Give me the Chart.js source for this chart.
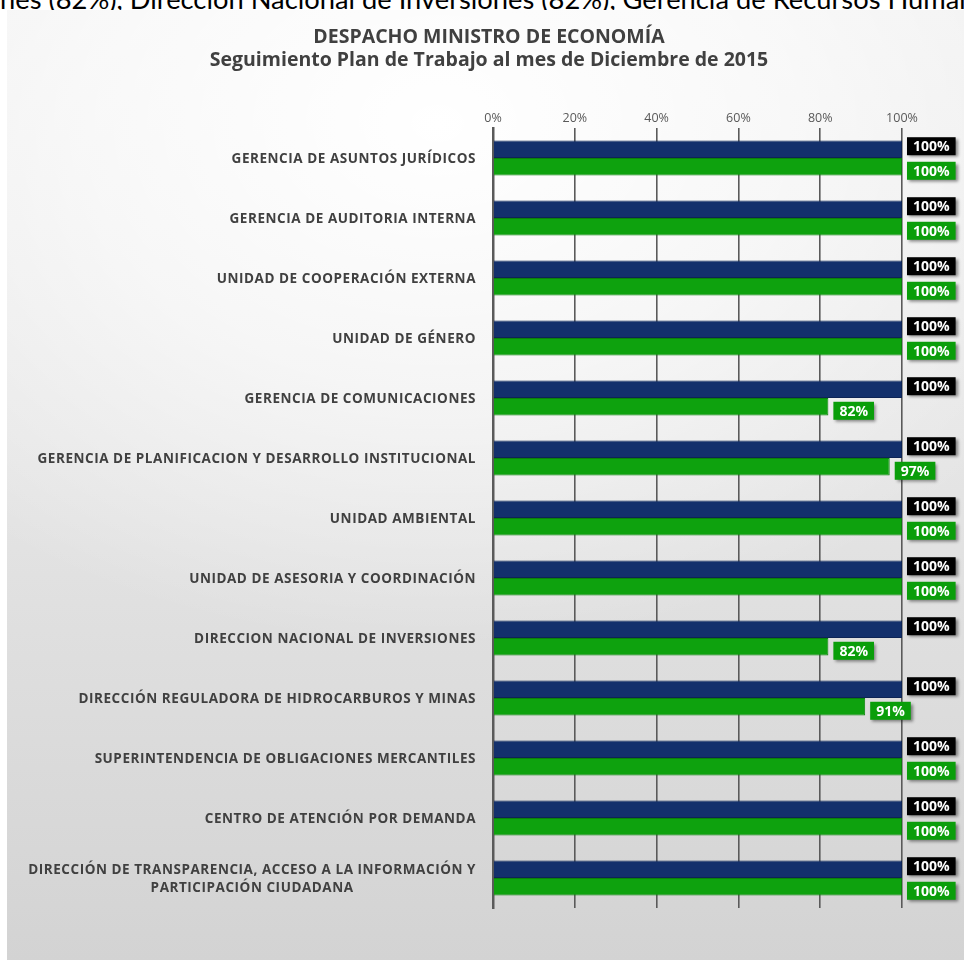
<!DOCTYPE html>
<html><head><meta charset="utf-8">
<script src="https://cdn.jsdelivr.net/npm/chart.js@4"></script>
<style>
html,body{margin:0;padding:0;background:#fff;width:964px;height:960px;overflow:hidden;}
#top{position:absolute;left:0;top:0;}
#panel{position:absolute;left:7px;top:10px;width:957px;height:950px;
background:
 radial-gradient(ellipse 75% 55% at 45% 12%, rgba(255,255,255,1) 0%, rgba(255,255,255,0.6) 50%, rgba(255,255,255,0) 100%),
 linear-gradient(to bottom,#f0f0f0 0%,#e6e6e6 45%,#d3d3d3 100%);}
#cv{position:absolute;left:0;top:0;}
</style></head><body>
<svg id="top" width="964" height="14"><text x="0" y="9" font-family="Lato" font-size="27.3" fill="#000">nes (82%), Dirección Nacional de Inversiones (82%), Gerencia de Recursos Humanos</text></svg>
<div id="panel"><canvas id="cv" width="957" height="950"></canvas></div>
<script>
const categories = [
  'GERENCIA DE ASUNTOS JURÍDICOS',
  'GERENCIA DE AUDITORIA INTERNA',
  'UNIDAD DE COOPERACIÓN EXTERNA',
  'UNIDAD DE GÉNERO',
  'GERENCIA DE COMUNICACIONES',
  'GERENCIA DE PLANIFICACION Y DESARROLLO INSTITUCIONAL',
  'UNIDAD AMBIENTAL',
  'UNIDAD DE ASESORIA Y COORDINACIÓN',
  'DIRECCION NACIONAL DE INVERSIONES',
  'DIRECCIÓN REGULADORA DE HIDROCARBUROS Y MINAS',
  'SUPERINTENDENCIA DE OBLIGACIONES MERCANTILES',
  'CENTRO DE ATENCIÓN POR DEMANDA',
  ['DIRECCIÓN DE TRANSPARENCIA, ACCESO A LA INFORMACIÓN Y', 'PARTICIPACIÓN CIUDADANA']
];
const programado = [100,100,100,100,100,100,100,100,100,100,100,100,100];
const ejecutado  = [100,100,100,100,82,97,100,100,82,91,100,100,100];
const tickValues = [0,20,40,60,80,100];
const titleText = 'DESPACHO MINISTRO DE ECONOMÍA';
const subtitleText = 'Seguimiento Plan de Trabajo al mes de Diciembre de 2015';

const labelBoxColors = ['#000000','#0a9e0a'];
const labelOffsets = [-3, 4];

const yLabelsPlugin = {
  id: 'yLabels',
  afterDraw(chart){
    const ctx = chart.ctx, ys = chart.scales.y;
    ctx.save();
    ctx.font = 'bold 13.5px "Open Sans"';
    ctx.letterSpacing = '0.55px';
    ctx.fillStyle = '#404040';
    ctx.textBaseline = 'middle';
    ctx.textAlign = 'center';
    const right = chart.chartArea.left - 17;
    chart.data.labels.forEach((c,i)=>{
      const lines = Array.isArray(c) ? c : [c];
      const py = ys.getPixelForValue(i);
      const maxW = Math.max(...lines.map(l=>ctx.measureText(l).width));
      const cx = right - maxW/2;
      lines.forEach((l,k)=>ctx.fillText(l, cx, py + (k-(lines.length-1)/2)*18 + 1));
    });
    ctx.restore();
  }
};

const dataLabelPlugin = {
  id: 'dataLabelBoxes',
  afterDatasetsDraw(chart){
    const ctx = chart.ctx;
    chart.data.datasets.forEach((ds,di)=>{
      const meta = chart.getDatasetMeta(di);
      meta.data.forEach((bar,i)=>{
        const txt = ds.data[i] + '%';
        ctx.save();
        ctx.font = 'bold 14px "Open Sans"';
        const w = ctx.measureText(txt).width + 12, h = 18;
        const x = bar.x + 5, yc = bar.y + labelOffsets[di];
        ctx.shadowColor = 'rgba(0,0,0,0.45)';
        ctx.shadowOffsetX = 2; ctx.shadowOffsetY = 2; ctx.shadowBlur = 3;
        ctx.fillStyle = labelBoxColors[di];
        ctx.fillRect(x, yc - h/2, w, h);
        ctx.shadowColor = 'rgba(0,0,0,0)';
        ctx.fillStyle = '#ffffff';
        ctx.textAlign = 'center'; ctx.textBaseline = 'middle';
        ctx.fillText(txt, x + w/2, yc + 1);
        ctx.restore();
      });
    });
  }
};

new Chart(document.getElementById('cv'), {
  type: 'bar',
  data: {
    labels: categories,
    datasets: [
      { label: 'Programado', data: programado, backgroundColor: '#13306c',
        borderColor: '#0d2456', borderWidth: 1, borderSkipped: 'left',
        categoryPercentage: 0.585, barPercentage: 1 },
      { label: 'Ejecutado', data: ejecutado, backgroundColor: '#0ea20e',
        borderColor: '#0b820b', borderWidth: 1, borderSkipped: 'left',
        categoryPercentage: 0.585, barPercentage: 1 }
    ]
  },
  options: {
    indexAxis: 'y',
    responsive: false,
    animation: false,
    layout: { padding: { left: 69, right: 62, top: 0, bottom: 52 } },
    plugins: {
      legend: { display: false },
      tooltip: { enabled: false },
      title: {
        display: true, text: titleText, color: '#404040',
        font: { family: 'Open Sans', size: 19.5, weight: 'bold', lineHeight: 23/19.5 },
        padding: { top: 15.5, bottom: 0 }
      },
      subtitle: {
        display: true, text: subtitleText, color: '#404040',
        font: { family: 'Open Sans', size: 19.5, weight: 'bold', lineHeight: 23/19.5 },
        padding: { top: 0, bottom: 0 }
      }
    },
    scales: {
      x: {
        position: 'top', min: 0, max: 100,
        afterFit(s){ s.height = 56.5; },
        afterBuildTicks(s){ s.ticks = tickValues.map(v=>({value:v})); },
        ticks: { callback: v => v + '%', color: '#595959', padding: 2,
                 font: { family: 'Open Sans', size: 12.5 } },
        grid: { color: '#5a5a5a', lineWidth: 1.6, drawTicks: false },
        border: { display: false }
      },
      y: {
        afterFit(s){ s.width = 417; },
        ticks: { display: false },
        grid: { display: false },
        border: { display: true, color: '#5a5a5a', width: 2.5 }
      }
    }
  },
  plugins: [yLabelsPlugin, dataLabelPlugin]
});
</script>
</body></html>
